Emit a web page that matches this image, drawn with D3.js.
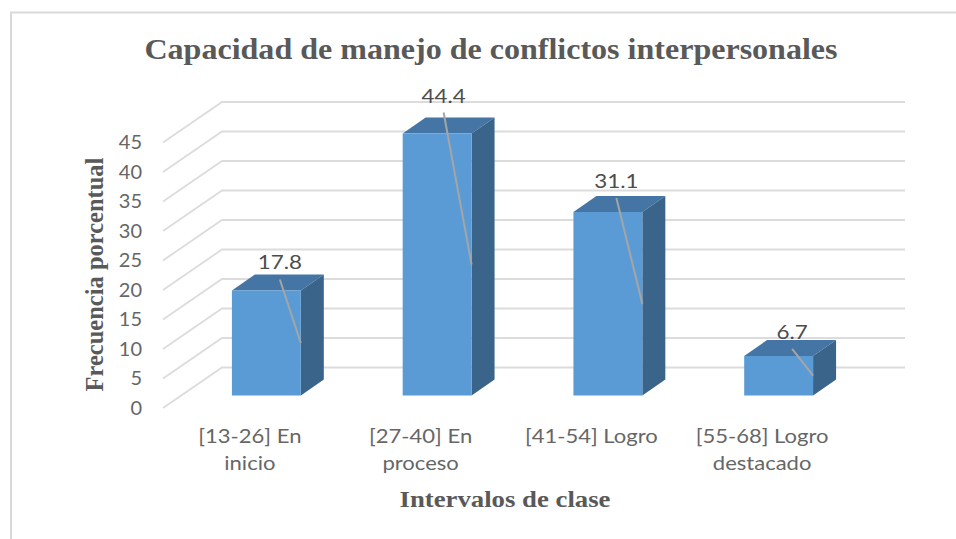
<!DOCTYPE html>
<html>
<head>
<meta charset="utf-8">
<script src="https://cdn.jsdelivr.net/npm/d3@7"></script>
<style>
  html, body { margin: 0; padding: 0; background: #fff; }
  svg { display: block; }
</style>
</head>
<body>
<div id="chart-area"></div>
<script>
// Data
var categories = [['[13-26] En', 'inicio'], ['[27-40] En', 'proceso'], ['[41-54] Logro'], ['[55-68] Logro', 'destacado']];
var values = [17.8, 44.4, 31.1, 6.7];
var valueLabels = ['17.8', '44.4', '31.1', '6.7'];
var yTicks = [0, 5, 10, 15, 20, 25, 30, 35, 40, 45];
var chartTitle = 'Capacidad de manejo de conflictos interpersonales';
var yTitle = 'Frecuencia porcentual';
var xTitle = 'Intervalos de clase';

var outerWidth = 956;
var outerHeight = 539;
var sansFont = 'Lato, sans-serif';
var serifFont = '"Liberation Serif", serif';
var textColor = '#666666';
var titleColor = '#595959';

// 3d offsets: wall behind the plot, where the bar sits, how deep the bar is
var wall = {dx: 59, dy: -40.5};
var barShift = {dx: 18, dy: -12.5};
var barDepth = {dx: 23, dy: -16};

// label position relative to the bar centre / bar top, one per bar
var labelDx = [13.5, 6.5, 8.5, 13.5];
var labelDy = [-21, -31, -24, -17];

var svg = d3.select('#chart-area').append('svg')
            .attr('width', outerWidth)
            .attr('height', outerHeight);

// Frame, only top and left are visible in the picture
svg.append('path')
   .attr('d', 'M11,539V12.5H956')
   .attr('fill', 'none')
   .attr('stroke', '#d9d9d9')
   .attr('stroke-width', 2);

// Scales
var keys = categories.map(function(d) { return d.join(' '); });
var xScale = d3.scaleBand().domain(keys).range([163, 846]).paddingInner(0.5965).paddingOuter(0.2982);
var yScale = d3.scaleLinear().domain([0, 45]).range([408, 142.5]);

// Grid: a diagonal on the side wall, then the line across the back
var grid = svg.append('g').attr('class', 'grid');
grid.selectAll('path')
    .data(yTicks)
    .enter().append('path')
    .attr('d', function(d) {
      return 'M163,' + yScale(d) + 'L' + (163 + wall.dx) + ',' + (yScale(d) + wall.dy) + 'H905';
    })
    .attr('fill', 'none')
    .attr('stroke', '#dcdcdc')
    .attr('stroke-width', 1.8);

// Axes
var yAxisG = svg.append('g')
                .attr('class', 'y axis')
                .attr('transform', 'translate(145,0)')
                .call(d3.axisLeft(yScale).tickValues(yTicks).tickSize(0).tickPadding(3));
yAxisG.select('.domain').remove();
yAxisG.selectAll('text')
      .attr('font-family', sansFont)
      .attr('font-size', '20px')
      .attr('fill', textColor);

var xAxisG = svg.append('g')
                .attr('class', 'x axis')
                .attr('transform', 'translate(1.5,0)')
                .call(d3.axisBottom(xScale).tickSize(0));
xAxisG.select('.domain').remove();
xAxisG.selectAll('text').remove();

// the picture is stretched sideways, so the labels are scaled in x only
xAxisG.selectAll('.tick').append('text')
      .attr('transform', 'scale(1.16,1)')
      .attr('text-anchor', 'middle')
      .attr('font-family', sansFont)
      .attr('font-size', '19px')
      .attr('fill', textColor)
      .selectAll('tspan')
      .data(function(d, i) { return categories[i]; })
      .enter().append('tspan')
      .attr('x', 0)
      .attr('y', function(d, i) { return 443 + i * 27; })
      .text(function(d) { return d; });

// Bars
var bars = svg.selectAll('.bar')
              .data(values)
              .enter().append('g')
              .attr('class', 'bar')
              .attr('transform', 'translate(' + barShift.dx + ',' + barShift.dy + ')');

function barLeft(i) { return xScale(keys[i]); }
function barRight(i) { return xScale(keys[i]) + xScale.bandwidth(); }

// top face
bars.append('path')
    .attr('fill', '#4475a4')
    .attr('d', function(d, i) {
      var y = yScale(d);
      return 'M' + barLeft(i) + ',' + y + 'l' + barDepth.dx + ',' + barDepth.dy + 'H' + (barRight(i) + barDepth.dx) + 'V' + (y + barDepth.dy) + 'L' + barRight(i) + ',' + y + 'Z';
    });

// side face
bars.append('path')
    .attr('fill', '#3a6489')
    .attr('d', function(d, i) {
      var y0 = yScale(0), y = yScale(d);
      return 'M' + barRight(i) + ',' + y + 'l' + barDepth.dx + ',' + barDepth.dy + 'V' + (y0 + barDepth.dy) + 'L' + barRight(i) + ',' + y0 + 'Z';
    });

// front face
bars.append('rect')
    .attr('fill', '#5b9bd5')
    .attr('x', function(d, i) { return barLeft(i); })
    .attr('y', function(d) { return yScale(d); })
    .attr('width', xScale.bandwidth())
    .attr('height', function(d) { return yScale(0) - yScale(d); });

// Leader lines go from under the label to the front edge at half the value
bars.append('line')
    .attr('stroke', '#a5a5a5')
    .attr('stroke-width', 2)
    .attr('x1', function(d, i) { return barLeft(i) + xScale.bandwidth() / 2 + labelDx[i]; })
    .attr('y1', function(d, i) { return yScale(d) + labelDy[i] + 10; })
    .attr('x2', function(d, i) { return barRight(i); })
    .attr('y2', function(d) { return yScale(d / 2); });

bars.append('text')
    .attr('transform', function(d, i) {
      return 'translate(' + (barLeft(i) + xScale.bandwidth() / 2 + labelDx[i]) + ',' + (yScale(d) + labelDy[i]) + ') scale(1.12,1)';
    })
    .attr('text-anchor', 'middle')
    .attr('font-family', sansFont)
    .attr('font-size', '20px')
    .attr('fill', '#4d4d4d')
    .text(function(d, i) { return valueLabels[i]; });

// Titles
svg.append('text')
   .attr('transform', 'translate(491,59) scale(1.105,1)')
   .attr('text-anchor', 'middle')
   .attr('font-family', serifFont)
   .attr('font-weight', 'bold')
   .attr('font-size', '29px')
   .attr('fill', titleColor)
   .text(chartTitle);

svg.append('text')
   .attr('transform', 'translate(103,274.5) rotate(-90)')
   .attr('text-anchor', 'middle')
   .attr('font-family', serifFont)
   .attr('font-weight', 'bold')
   .attr('font-size', '24.5px')
   .attr('fill', titleColor)
   .text(yTitle);

svg.append('text')
   .attr('transform', 'translate(505,506.5) scale(1.115,1)')
   .attr('text-anchor', 'middle')
   .attr('font-family', serifFont)
   .attr('font-weight', 'bold')
   .attr('font-size', '24px')
   .attr('fill', titleColor)
   .text(xTitle);
</script>
</body>
</html>
